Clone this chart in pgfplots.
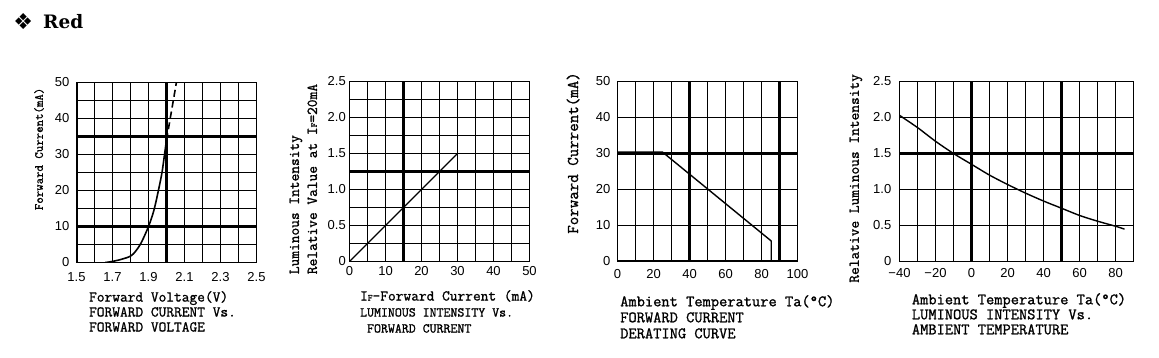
\documentclass[border=0pt]{standalone}
\usepackage{fontspec}
\setmainfont{Liberation Sans}
\newfontfamily\titlefont{DejaVu Serif}
\newfontfamily\symfont{DejaVu Sans}
\newfontfamily\lmtt{Latin Modern Mono}[FakeBold=1.2]
\usepackage{pgfplots}
\pgfplotsset{compat=1.18}

\newcommand{\tf}{\fontsize{13}{13}\selectfont}
\newcommand{\lf}[2]{\fontsize{#1}{#2}\selectfont\lmtt}
\newcommand{\sF}{{\fontsize{9}{9}\selectfont F}}

\pgfplotsset{
  dsgrid/.style={
    scale only axis,
    anchor=south west,
    axis line style={line width=1.6pt},
    major tick length=0pt, minor tick length=0pt,
    xmajorgrids, ymajorgrids, xminorgrids, yminorgrids,
    major grid style={line width=1.2pt, black},
    minor grid style={line width=1.2pt, black},
    ticklabel style={font=\tf, inner sep=0pt},
    xlabel style={anchor=north west, align=left, inner sep=0pt},
    ylabel style={anchor=center, align=left, inner sep=0pt},
  },
  thick grid/.style={line width=3pt, black, forget plot},
}

\begin{document}
\begin{tikzpicture}
\path[use as bounding box] (0,0) rectangle (1159pt,-358pt);
\node[anchor=center, inner sep=0pt] at (23.3pt,-21.5pt) {\symfont\fontsize{22}{22}\selectfont ❖};
\node[anchor=base west, inner sep=0pt] at (43pt,-28.3pt) {\titlefont\bfseries\fontsize{18.5}{18.5}\selectfont Red};

% Chart 1
\begin{axis}[dsgrid, at={(76.5pt,-262.5pt)}, width=180pt, height=180pt,
  xmin=1.5, xmax=2.5, ymin=0, ymax=50,
  xtick={1.5,1.7,1.9,2.1,2.3,2.5}, xticklabels={1.5,1.7,1.9,2.1,2.3,2.5},
  minor xtick={1.6,1.8,2.0,2.2,2.4},
  ytick={0,10,20,30,40,50}, yticklabels={0,10,20,30,40,50},
  minor ytick={5,15,25,35,45},
  xticklabel style={yshift=-9.5pt}, yticklabel style={xshift=-7pt},
  xlabel={Forward Voltage(V)\\FORWARD CURRENT Vs.\\FORWARD VOLTAGE},
  xlabel style={at={(axis description cs:0.069,-0.158)}, font=\lf{15}{15}},
  ylabel={Forward Current(mA)},
  ylabel style={at={(axis description cs:-0.208,0.631)}, font=\lf{12.5}{12.5}},
]
\addplot[thick grid] coordinates {(2.0,0) (2.0,50)};
\addplot[thick grid] coordinates {(1.5,10) (2.5,10)};
\addplot[thick grid] coordinates {(1.5,35) (2.5,35)};
\addplot[line width=3pt, black, forget plot] coordinates {(1.5,0) (1.5,50)};
\addplot[line width=2pt, black, forget plot] coordinates {(1.5,0) (2.5,0)};
\addplot[line width=1.6pt, smooth, tension=0.5] coordinates {
  (1.66,0) (1.70,0.3) (1.75,0.9) (1.807,2) (1.854,5) (1.90,10)
  (1.93,14.5) (1.955,20) (1.975,25) (1.989,30) (2.0,34)};
\addplot[line width=1.6pt, dash pattern=on 7pt off 4pt] coordinates {(2.0,34) (2.055,50)};
\end{axis}

% Chart 2
\begin{axis}[dsgrid, at={(349.5pt,-261.5pt)}, width=180pt, height=180pt,
  xmin=0, xmax=50, ymin=0, ymax=2.5,
  xtick={0,10,20,30,40,50}, xticklabels={0,10,20,30,40,50},
  minor xtick={5,15,25,35,45},
  ytick={0,0.5,1,1.5,2,2.5}, yticklabels={0,0.5,1.0,1.5,2.0,2.5},
  minor ytick={0.25,0.75,1.25,1.75,2.25},
  xticklabel style={yshift=-5pt}, yticklabel style={xshift=-3.5pt},
  xlabel={I\sF-Forward Current (mA)\\{\fontsize{13.5}{13.5}\selectfont LUMINOUS INTENSITY Vs.}\\{\fontsize{13.5}{13.5}\selectfont\ FORWARD CURRENT}},
  xlabel style={at={(axis description cs:0.058,-0.158)}, font=\lf{15}{16}},
  ylabel={Luminous Intensity\\Relative Value at I\sF=20mA},
  ylabel style={at={(axis description cs:-0.256,0.458)}, font=\lf{15}{18}},
]
\addplot[thick grid] coordinates {(15,0) (15,2.5)};
\addplot[thick grid] coordinates {(0,1.25) (50,1.25)};
\addplot[line width=1.4pt] coordinates {(0,0) (30,1.5)};
\end{axis}

% Chart 3
\begin{axis}[dsgrid, at={(617.5pt,-261.5pt)}, width=180pt, height=180pt,
  xmin=0, xmax=100, ymin=0, ymax=50,
  xtick={0,20,40,60,80,100}, xticklabels={0,20,40,60,80,100},
  minor xtick={10,30,50,70,90},
  ytick={0,10,20,30,40,50}, yticklabels={0,10,20,30,40,50},
  xticklabel style={yshift=-7.5pt}, yticklabel style={xshift=-7pt},
  xlabel={Ambient Temperature Ta(°C)\\FORWARD CURRENT\\DERATING CURVE},
  xlabel style={at={(axis description cs:0.014,-0.186)}, font=\lf{16}{16}},
  ylabel={Forward Current(mA)},
  ylabel style={at={(axis description cs:-0.247,0.603)}, font=\lf{16.5}{16.5}},
]
\addplot[thick grid] coordinates {(40,0) (40,50)};
\addplot[thick grid] coordinates {(90,0) (90,50)};
\addplot[thick grid] coordinates {(0,30) (100,30)};
\addplot[thick grid] coordinates {(0,0) (100,0)};
\addplot[line width=1.4pt] coordinates {(0,30.4) (25,30.4) (85.4,5.7) (85.4,0)};
\end{axis}

% Chart 4
\begin{axis}[dsgrid, at={(899.5pt,-261.5pt)}, width=234pt, height=180pt,
  xmin=-40, xmax=90, ymin=0, ymax=2.5,
  xtick={-40,-20,0,20,40,60,80}, xticklabels={−40,−20,0,20,40,60,80},
  minor xtick={-30,-10,10,30,50,70},
  ytick={0,0.5,1,1.5,2,2.5}, yticklabels={0,0.5,1.0,1.5,2.0,2.5},
  xticklabel style={yshift=-7pt}, yticklabel style={xshift=-8pt},
  xlabel={Ambient Temperature Ta(°C)\\LUMINOUS INTENSITY Vs.\\AMBIENT TEMPERATURE},
  xlabel style={at={(axis description cs:0.052,-0.175)}, font=\lf{16}{15}},
  ylabel={Relative Luminous Intensity},
  ylabel style={at={(axis description cs:-0.186,0.462)}, font=\lf{15}{15}},
]
\addplot[thick grid] coordinates {(0,0) (0,2.5)};
\addplot[thick grid] coordinates {(50,0) (50,2.5)};
\addplot[thick grid] coordinates {(-40,1.5) (90,1.5)};
\addplot[line width=1.4pt, smooth] coordinates {
  (-40,2.03) (-30,1.86) (-20,1.67) (-10,1.50) (0,1.35) (10,1.20) (20,1.07)
  (30,0.95) (40,0.84) (50,0.74) (60,0.64) (70,0.56) (80,0.49) (85,0.45)};
\end{axis}
\end{tikzpicture}
\end{document}
